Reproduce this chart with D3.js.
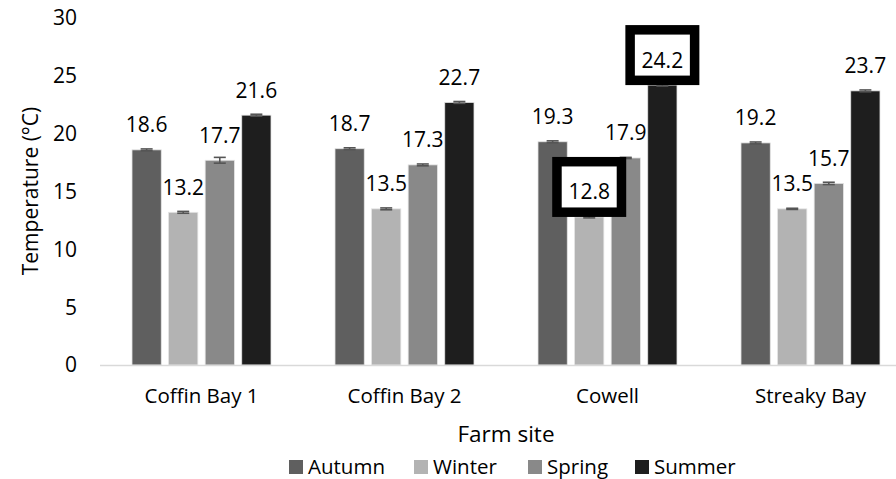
<!DOCTYPE html>
<html>
<head>
<meta charset="utf-8">
<script src="https://cdn.jsdelivr.net/npm/d3@7"></script>
<style>
  html, body { margin: 0; padding: 0; background: #fff; }
  svg { display: block; font-family: "Open Sans", sans-serif; }
</style>
</head>
<body>
<svg id="chart" width="896" height="479"></svg>
<script>
// Mean water temperature per farm site and season, with standard errors
const sites = ["Coffin Bay 1", "Coffin Bay 2", "Cowell", "Streaky Bay"];
const seasons = ["Autumn", "Winter", "Spring", "Summer"];
const autumn = [18.6, 18.7, 19.3, 19.2];
const winter = [13.2, 13.5, 12.8, 13.5];
const spring = [17.7, 17.3, 17.9, 15.7];
const summer = [21.6, 22.7, 24.2, 23.7];
const autumnErr = [0.08, 0.08, 0.08, 0.08];
const winterErr = [0.08, 0.08, 0.08, 0.05];
const springErr = [0.25, 0.08, 0.05, 0.1];
const summerErr = [0.08, 0.08, 0.08, 0.08];
const yTicks = [0, 5, 10, 15, 20, 25, 30];
// Values picked out with a framed label (seasonal extremes at Cowell)
const highlighted = [["Cowell", "Summer"], ["Cowell", "Winter"]];

const colors = { Autumn: "#5f5f5f", Winter: "#b3b3b3", Spring: "#898989", Summer: "#1e1e1e" };
const valuesBySeason = { Autumn: autumn, Winter: winter, Spring: spring, Summer: summer };
const errBySeason = { Autumn: autumnErr, Winter: winterErr, Spring: springErr, Summer: summerErr };

const rows = [];
sites.forEach((site, i) => {
  seasons.forEach(season => {
    rows.push({ site, season, value: valuesBySeason[season][i], err: errBySeason[season][i] });
  });
});

const svg = d3.select("#chart");
const plotLeft = 100, plotRight = 912, plotTop = 18, plotBottom = 365;

const y = d3.scaleLinear().domain([0, 30]).range([plotBottom, plotTop]);
const x0 = d3.scaleBand().domain(sites).range([plotLeft, plotRight]);
const x1 = d3.scaleBand().domain(seasons).range([32, x0.bandwidth() - 32]).paddingInner(0.2);

// Y tick labels (no gridlines)
svg.append("g").selectAll("text").data(yTicks).join("text")
  .attr("x", 77).attr("y", d => y(d)).attr("dy", "0.35em")
  .attr("text-anchor", "end").attr("font-size", 21).attr("fill", "#000")
  .text(d => d);

// Bars
const barG = svg.append("g");
barG.selectAll("rect").data(rows).join("rect")
  .attr("x", d => x0(d.site) + x1(d.season))
  .attr("y", d => y(d.value))
  .attr("width", x1.bandwidth())
  .attr("height", d => y(0) - y(d.value))
  .attr("fill", d => colors[d.season])
  .attr("stroke", "#e4e4e4").attr("stroke-width", 0.8);

// Error bars
const errG = svg.append("g").attr("stroke", "#555").attr("stroke-width", 1.6);
rows.forEach(d => {
  const cx = x0(d.site) + x1(d.season) + x1.bandwidth() / 2;
  const y1 = y(d.value + d.err), y2 = y(d.value - d.err);
  errG.append("line").attr("x1", cx).attr("x2", cx).attr("y1", y1).attr("y2", y2);
  errG.append("line").attr("x1", cx - 6).attr("x2", cx + 6).attr("y1", y1).attr("y2", y1);
  errG.append("line").attr("x1", cx - 6).attr("x2", cx + 6).attr("y1", y2).attr("y2", y2);
});

// X axis baseline
svg.append("line")
  .attr("x1", plotLeft).attr("x2", 896).attr("y1", y(0) + 0.5).attr("y2", y(0) + 0.5)
  .attr("stroke", "#d9d9d9").attr("stroke-width", 1.5);

// Frames around highlighted values
const isHighlighted = d => highlighted.some(h => h[0] === d.site && h[1] === d.season);
const frameW = 9.5;
svg.append("g").selectAll("rect").data(rows.filter(isHighlighted)).join("rect")
  .attr("x", d => x0(d.site) + x1(d.season) + x1.bandwidth() / 2 - 37 + frameW / 2)
  .attr("y", d => y(d.value) - 60 + frameW / 2)
  .attr("width", 74 - frameW)
  .attr("height", 60 - frameW)
  .attr("fill", "#fff").attr("stroke", "#000").attr("stroke-width", frameW);

// Data labels
svg.append("g").selectAll("text").data(rows).join("text")
  .attr("x", d => x0(d.site) + x1(d.season) + x1.bandwidth() / 2)
  .attr("y", d => y(d.value) - 17.5)
  .attr("text-anchor", "middle").attr("font-size", 21).attr("fill", "#000")
  .text(d => d3.format(".1f")(d.value));

// Category labels
svg.append("g").selectAll("text").data(sites).join("text")
  .attr("x", d => x0(d) + x0.bandwidth() / 2).attr("y", 403)
  .attr("text-anchor", "middle").attr("font-size", 20.5).attr("fill", "#000")
  .text(d => d);

// Axis titles
svg.append("text").attr("x", 506).attr("y", 442)
  .attr("text-anchor", "middle").attr("font-size", 22.5).attr("fill", "#000")
  .text("Farm site");
svg.append("text")
  .attr("transform", "translate(38,191) rotate(-90)")
  .attr("text-anchor", "middle").attr("font-size", 21).attr("fill", "#000")
  .text("Temperature (°C)");

// Legend
const legendX = [289, 414, 528, 635];
const leg = svg.append("g").selectAll("g").data(seasons).join("g")
  .attr("transform", (d, i) => `translate(${legendX[i]},460)`);
leg.append("rect").attr("width", 14).attr("height", 14).attr("fill", d => colors[d]);
leg.append("text").attr("x", 19).attr("y", 14).attr("font-size", 20.5).attr("fill", "#000")
  .text(d => d);
</script>
</body>
</html>
